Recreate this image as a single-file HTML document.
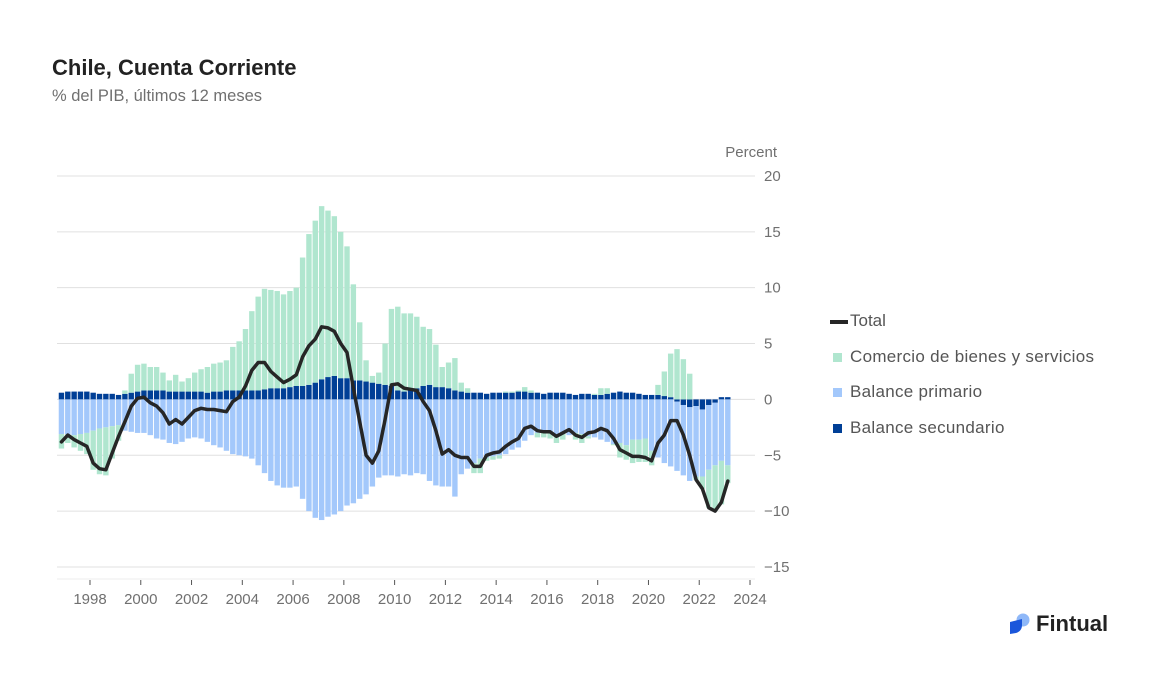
<!DOCTYPE html>
<html><head><meta charset="utf-8">
<style>
body{margin:0;background:#fff;font-family:"Liberation Sans",sans-serif;}
#wrap{position:relative;width:1160px;height:686px;overflow:hidden;}
.t{position:absolute;white-space:nowrap;}
</style></head><body>
<div id="wrap">
<div class="t" style="left:52px;top:55px;font-size:22px;font-weight:bold;color:#222;">Chile, Cuenta Corriente</div>
<div class="t" style="left:52px;top:87px;font-size:16.5px;color:#707070;">% del PIB, últimos 12 meses</div>
<svg id="chart" width="1160" height="686" style="position:absolute;left:0;top:0"></svg>
<div class="t" style="left:830px;top:311px;font-size:17px;color:#555;"><span style="display:inline-block;width:18px;height:4px;background:#262626;vertical-align:middle;margin-right:2px"></span>Total</div>
<div class="t" style="left:833px;top:347px;font-size:17px;color:#555;letter-spacing:0.3px"><span style="display:inline-block;width:9px;height:9px;background:#b0e6cf;vertical-align:middle;margin-right:8px"></span>Comercio de bienes y servicios</div>
<div class="t" style="left:833px;top:382px;font-size:17px;color:#555;letter-spacing:0.3px"><span style="display:inline-block;width:9px;height:9px;background:#a3c8fb;vertical-align:middle;margin-right:8px"></span>Balance primario</div>
<div class="t" style="left:833px;top:418px;font-size:17px;color:#555;letter-spacing:0.3px"><span style="display:inline-block;width:9px;height:9px;background:#003f96;vertical-align:middle;margin-right:8px"></span>Balance secundario</div>
<div class="t" style="left:1009px;top:611px;">
<svg width="24" height="24" style="vertical-align:middle"><circle cx="14" cy="8" r="6.5" fill="#8fb8f8"/><path d="M1 10 L13 7 L13 13 Q13 19 7 21 L1 22 Z" fill="#1a56db"/></svg><span style="font-size:22px;font-weight:bold;color:#222;vertical-align:middle;margin-left:3px">Fintual</span></div>
</div>
<script>
const startYear = 1996.875;
const totalVals = [-3.8,-3.2,-3.6,-3.9,-4.2,-5.7,-6.2,-6.3,-4.8,-3.3,-2.0,-0.6,0.1,0.2,-0.3,-0.6,-1.2,-2.2,-1.8,-2.2,-1.6,-1.0,-0.8,-0.9,-0.9,-1.0,-1.1,-0.2,0.2,1.2,2.6,3.3,3.3,2.5,2.0,1.5,1.8,2.2,3.8,4.8,5.4,6.5,6.4,6.1,5.0,4.2,1.0,-2.0,-5.0,-5.7,-4.6,-1.8,1.3,1.4,1.0,0.9,0.8,-0.2,-1.0,-2.8,-4.9,-4.5,-5.0,-5.2,-5.2,-6.0,-6.0,-5.0,-4.8,-4.7,-4.2,-3.8,-3.5,-2.6,-2.4,-2.8,-2.9,-2.9,-3.3,-3.0,-2.7,-3.2,-3.4,-3.0,-2.9,-2.6,-2.8,-3.5,-4.5,-4.8,-5.1,-5.1,-5.2,-5.5,-3.9,-3.2,-1.9,-1.9,-3.2,-5.0,-7.2,-8.0,-9.7,-10.0,-9.2,-7.3];
const primarioVals = [-3.1,-3.1,-3.2,-3.1,-3.0,-2.8,-2.6,-2.5,-2.4,-2.3,-2.8,-2.9,-3.0,-3.0,-3.2,-3.5,-3.6,-3.9,-4.0,-3.8,-3.5,-3.4,-3.5,-3.8,-4.1,-4.3,-4.6,-4.9,-5.0,-5.1,-5.3,-5.9,-6.6,-7.3,-7.7,-7.9,-7.9,-7.8,-8.9,-10.0,-10.6,-10.8,-10.5,-10.3,-10.0,-9.5,-9.3,-8.9,-8.5,-7.8,-7.0,-6.8,-6.8,-6.9,-6.7,-6.8,-6.6,-6.7,-7.3,-7.7,-7.8,-7.8,-8.7,-6.7,-6.2,-5.7,-5.3,-5.2,-5.1,-5.0,-4.9,-4.5,-4.3,-3.7,-3.2,-3.0,-2.8,-3.0,-3.1,-3.0,-3.2,-3.0,-3.1,-3.3,-3.4,-3.6,-3.8,-4.0,-3.9,-4.1,-3.6,-3.6,-3.5,-4.6,-5.2,-5.7,-6.0,-6.2,-6.3,-6.6,-6.3,-6.0,-5.8,-5.6,-5.5,-5.9];
const secundarioVals = [0.6,0.7,0.7,0.7,0.7,0.6,0.5,0.5,0.5,0.4,0.5,0.6,0.7,0.8,0.8,0.8,0.8,0.7,0.7,0.7,0.7,0.7,0.7,0.6,0.7,0.7,0.8,0.8,0.8,0.8,0.8,0.8,0.9,1.0,1.0,1.0,1.1,1.2,1.2,1.3,1.5,1.8,2.0,2.1,1.9,1.9,1.7,1.7,1.6,1.5,1.4,1.3,1.2,0.8,0.7,0.9,1.0,1.2,1.3,1.1,1.1,1.0,0.8,0.7,0.6,0.6,0.6,0.5,0.6,0.6,0.6,0.6,0.7,0.7,0.6,0.6,0.5,0.6,0.6,0.6,0.5,0.4,0.5,0.5,0.4,0.4,0.5,0.6,0.7,0.6,0.6,0.5,0.4,0.4,0.4,0.3,0.2,-0.2,-0.5,-0.7,-0.6,-0.9,-0.5,-0.3,0.2,0.2];
const comercioVals = [-1.3,-0.8,-1.1,-1.5,-1.9,-3.5,-4.1,-4.3,-2.9,-1.4,0.3,1.7,2.4,2.4,2.1,2.1,1.6,1.0,1.5,0.9,1.2,1.7,2.0,2.3,2.5,2.6,2.7,3.9,4.4,5.5,7.1,8.4,9.0,8.8,8.7,8.4,8.6,8.8,11.5,13.5,14.5,15.5,14.9,14.3,13.1,11.8,8.6,5.2,1.9,0.6,1.0,3.7,6.9,7.5,7.0,6.8,6.4,5.3,5.0,3.8,1.8,2.3,2.9,0.8,0.4,-0.9,-1.3,-0.3,-0.3,-0.3,0.1,0.1,0.1,0.4,0.2,-0.4,-0.6,-0.5,-0.8,-0.6,0.0,-0.6,-0.8,-0.2,0.1,0.6,0.5,-0.1,-1.3,-1.3,-2.1,-2.0,-2.1,-1.3,0.9,2.2,3.9,4.5,3.6,2.3,-0.3,-1.1,-3.4,-4.1,-3.9,-1.6];
const yTicks = [20,15,10,5,0,-5,-10,-15];
const xTicks = [1998,2000,2002,2004,2006,2008,2010,2012,2014,2016,2018,2020,2022,2024];

const NS='http://www.w3.org/2000/svg';
const svg=document.getElementById('chart');
const xs=t=>90+(t-1998)*(660/26);
const ys=v=>399.4-v*(391/35);
function mk(tag,attrs){const e=document.createElementNS(NS,tag);for(const k in attrs)e.setAttribute(k,attrs[k]);svg.appendChild(e);return e;}

yTicks.forEach(v=>{
  const l=mk('line',{x1:57,x2:755,y1:ys(v),y2:ys(v),stroke:'#e0e0e0','stroke-width':1});
  
  
  const t=mk('text',{x:764,y:ys(v)+5,'font-size':15,fill:'#707070','font-family':'Liberation Sans, sans-serif'});
  t.textContent=v<0?'\u2212'+Math.abs(v):String(v);
  
  
});
const yt=mk('text',{x:777,y:157,'font-size':15,fill:'#707070','text-anchor':'end','font-family':'Liberation Sans, sans-serif'});
yt.textContent='Percent';


const base=mk('line',{x1:57,x2:755,y1:579,y2:579,stroke:'#eeeeee','stroke-width':1});


xTicks.forEach(y=>{
  const tk=mk('line',{x1:xs(y),x2:xs(y),y1:580,y2:585,stroke:'#555','stroke-width':1});
  
  
  const t=mk('text',{x:xs(y),y:604,'font-size':15,fill:'#707070','text-anchor':'middle','font-family':'Liberation Sans, sans-serif'});
  t.textContent=y;
  
  
});
const bw=5.4;
function bar(cx,v0,v1,color,name){
  const y0=ys(Math.max(v0,v1)),y1=ys(Math.min(v0,v1));
  const r=mk('rect',{x:cx-bw/2,y:y0,width:bw,height:Math.max(0,y1-y0),fill:color});
  
  
}
totalVals.forEach((_,i)=>{
  const cx=xs(startYear+0.25*i);
  let pos=0,neg=0;
  const s=secundarioVals[i],p=primarioVals[i],c=comercioVals[i];
  if(s>=0){bar(cx,pos,pos+s,'#003f96','bar-secundario');pos+=s;}else{bar(cx,neg,neg+s,'#003f96','bar-secundario');neg+=s;}
  if(p>=0){bar(cx,pos,pos+p,'#a3c8fb','bar-primario');pos+=p;}else{bar(cx,neg,neg+p,'#a3c8fb','bar-primario');neg+=p;}
  if(c>=0){bar(cx,pos,pos+c,'#b0e6cf','bar-comercio');pos+=c;}else{bar(cx,neg,neg+c,'#b0e6cf','bar-comercio');neg+=c;}
});
const pts=totalVals.map((v,i)=>xs(startYear+0.25*i).toFixed(1)+','+ys(v).toFixed(1)).join(' ');
const line=mk('polyline',{points:pts,fill:'none',stroke:'#262626','stroke-width':3.5,'stroke-linejoin':'round','stroke-linecap':'round'});


</script>
</body></html>
